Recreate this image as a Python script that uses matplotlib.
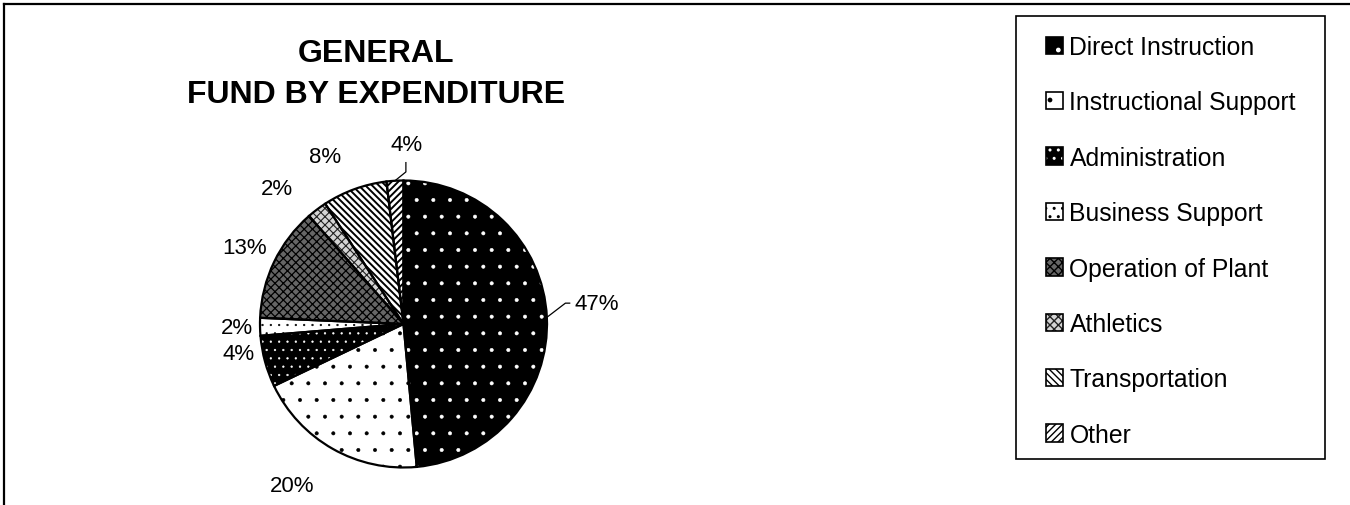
import matplotlib
matplotlib.use('Agg')
import matplotlib.pyplot as plt
from matplotlib.patches import Wedge, Patch, Rectangle
from matplotlib.lines import Line2D
from matplotlib.legend_handler import HandlerTuple
import numpy as np

plt.rcParams['font.family'] = ['Liberation Sans', 'DejaVu Sans']

# data
categories = ['Direct Instruction', 'Instructional Support', 'Administration',
              'Business Support', 'Operation of Plant', 'Athletics',
              'Transportation', 'Other']
shares = [48.6, 19.4, 5.8, 2.0, 12.9, 2.25, 7.3, 1.9]
pct_labels = ['47%', '20%', '4%', '2%', '13%', '2%', '8%', '4%']

# styles
fills = ['black', 'white', 'black', 'white', '#666666', '#d4d4d4', 'white', 'white']
hatch_cols = ['white', 'black', 'white', 'black', 'black', '#222222', 'black', 'black']
hatches = ['.', '.', '..', '..', 'xxxx', 'xxxx', '\\' * 5, '/' * 5]
hatch_lw = [0.4, 0.4, 0.4, 0.4, 0.9, 0.8, 1.4, 1.4]
# label layout: distance (in radii) and angular nudge (deg, clockwise)
label_dist = [1.356, 1.37, 1.17, 1.16, 1.23, 1.29, 1.29, 1.25]
label_shift = [-3.5, 5, 4.9, 0, 0, -6, -5, 4.5]

W, H = 1350, 506
fig = plt.figure(figsize=(W / 100, H / 100), dpi=100)

# pie axes: centre (403.5, 325) px, radius 143.5 px
r_px = 143.5
side = r_px * 2.2
ax = fig.add_axes([(403.5 - side / 2) / W, (H - 325 - side / 2) / H, side / W, side / H])
wedges, _ = ax.pie(shares, startangle=90, counterclock=False, colors=fills,
                   wedgeprops=dict(linewidth=0))
ax.set_xlim(-1.1, 1.1)
ax.set_ylim(-1.1, 1.1)
ax.set_aspect('equal')
ax.axis('off')


def hatched(patch_fn, i):
    with plt.rc_context({'hatch.linewidth': hatch_lw[i]}):
        p = patch_fn()
    if hasattr(p, 'set_hatch_linewidth'):
        p.set_hatch_linewidth(hatch_lw[i])
    return p


for i, w in enumerate(wedges):
    hw = hatched(lambda: Wedge(w.center, w.r, w.theta1, w.theta2, facecolor='none',
                               edgecolor=hatch_cols[i], hatch=hatches[i],
                               linewidth=0, zorder=2), i)
    ax.add_patch(hw)
    ax.add_patch(Wedge(w.center, w.r, w.theta1, w.theta2, facecolor='none',
                       edgecolor='black', linewidth=1.6, zorder=3))

    mid = (w.theta1 + w.theta2) / 2
    ang = np.radians(mid - label_shift[i])
    lx, ly = label_dist[i] * np.cos(ang), label_dist[i] * np.sin(ang)
    ax.text(lx, ly, pct_labels[i], ha='center', va='center', fontsize=16, zorder=4)

    ex, ey = np.cos(np.radians(mid)), np.sin(np.radians(mid))
    if i == 0:
        ax.add_line(Line2D([ex, lx - 0.22, lx - 0.19], [ey, ly, ly],
                           color='black', lw=0.9, clip_on=False))
    elif i == len(wedges) - 1:
        ax.add_line(Line2D([ex, lx - 0.007, lx - 0.007], [ey, ly - 0.19, ly - 0.125],
                           color='black', lw=0.9, clip_on=False))

# title
fig.text(376 / W, (H - 62) / H, 'GENERAL', ha='center', va='baseline',
         fontsize=23, fontweight='bold')
fig.text(376 / W, (H - 103) / H, 'FUND BY EXPENDITURE', ha='center', va='baseline',
         fontsize=23, fontweight='bold')

# chart border (top and left visible)
fig.add_artist(Line2D([4 / W, 1], [(H - 5) / H, (H - 5) / H], color='black', lw=1.6))
fig.add_artist(Line2D([4 / W, 4 / W], [0, (H - 5) / H], color='black', lw=1.6))

# legend
handles = []
for i in range(len(categories)):
    p1 = hatched(lambda: Patch(facecolor=fills[i], edgecolor=hatch_cols[i],
                               hatch=hatches[i], linewidth=0), i)
    p2 = Patch(facecolor='none', edgecolor='black', linewidth=1.2)
    handles.append((p1, p2))
fig.legend(handles, categories, handler_map={tuple: HandlerTuple(ndivide=1)},
           loc='upper left', bbox_to_anchor=(1046 / W, (H - 36) / H),
           frameon=False, fontsize=17.8, borderpad=0, borderaxespad=0,
           handlelength=0.7, handleheight=0.7, handletextpad=0.25,
           labelspacing=1.27)
fig.add_artist(Rectangle((1016 / W, (H - 460) / H), 309 / W, 443 / H,
                         transform=fig.transFigure, facecolor='none',
                         edgecolor='black', linewidth=1.2))

fig.savefig('out.png', dpi=100)
